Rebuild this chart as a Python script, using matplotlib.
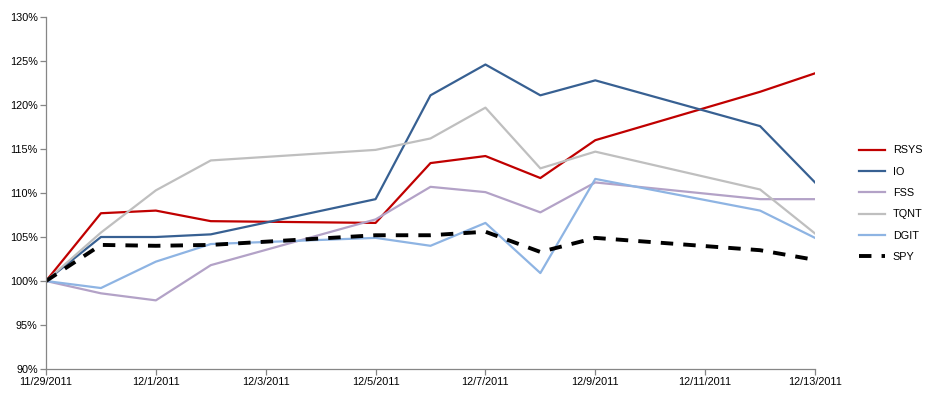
import matplotlib
matplotlib.use("Agg")
import matplotlib.pyplot as plt
import matplotlib.dates as mdates
from matplotlib.ticker import FuncFormatter
import datetime as dt

dates = ["2011-11-29", "2011-11-30", "2011-12-01", "2011-12-02", "2011-12-05",
         "2011-12-06", "2011-12-07", "2011-12-08", "2011-12-09", "2011-12-12", "2011-12-13"]
rsys = [100.0, 107.7, 108.0, 106.8, 106.6, 113.4, 114.2, 111.7, 116.0, 121.5, 123.6]
io   = [100.0, 105.0, 105.0, 105.3, 109.3, 121.1, 124.6, 121.1, 122.8, 117.6, 111.2]
fss  = [100.0, 98.6, 97.8, 101.8, 107.0, 110.7, 110.1, 107.8, 111.2, 109.3, 109.3]
tqnt = [100.0, 105.5, 110.3, 113.7, 114.9, 116.2, 119.7, 112.8, 114.7, 110.4, 105.4]
dgit = [100.0, 99.2, 102.2, 104.2, 104.9, 104.0, 106.6, 100.9, 111.6, 108.0, 104.9]
spy  = [100.0, 104.1, 104.0, 104.1, 105.2, 105.2, 105.6, 103.3, 104.9, 103.5, 102.4]
series_names = ["RSYS", "IO", "FSS", "TQNT", "DGIT", "SPY"]

x = [dt.datetime.strptime(d, "%Y-%m-%d") for d in dates]

plt.rcParams['font.family'] = ['Liberation Sans', 'DejaVu Sans']
fig = plt.figure(figsize=(9.32, 3.97), dpi=100)
ax = fig.add_axes([46/932, 1-369/397, (815-46)/932, (369-17)/397])

colors = ["#C00000", "#376092", "#B3A2C7", "#BFBFBF", "#8EB4E3", "#000000"]
data = [rsys, io, fss, tqnt, dgit, spy]
for name, vals, c in zip(series_names, data, colors):
    if name == "SPY":
        ax.plot(x, vals, color=c, lw=2.8, dashes=(3.2, 2.6), label=name)
    else:
        ax.plot(x, vals, color=c, lw=1.6, label=name)

ax.set_ylim(90, 130)
ax.set_yticks(range(90, 131, 5))
ax.yaxis.set_major_formatter(FuncFormatter(lambda v, p: f"{int(v)}%"))
ax.set_xlim(x[0], x[-1])
ticks = [dt.datetime(2011, 11, 29) + dt.timedelta(days=2*i) for i in range(8)]
ax.set_xticks(ticks)
ax.set_xticklabels([f"{t.month}/{t.day}/{t.year}" for t in ticks])

for s in ["top", "right"]:
    ax.spines[s].set_visible(False)
for s in ["left", "bottom"]:
    ax.spines[s].set_color("#868686")
    ax.spines[s].set_linewidth(0.9)
ax.tick_params(axis='both', colors="#868686", labelcolor="black", labelsize=7.8, length=4, width=0.9)
ax.tick_params(axis='x', pad=2)
ax.tick_params(axis='y', pad=2)

leg = ax.legend(loc='upper left', bbox_to_anchor=(855/932, 1-141/397), bbox_transform=fig.transFigure,
                frameon=False, fontsize=7.8, handlelength=2.4, labelspacing=1.05, handletextpad=0.7,
                borderaxespad=0)

fig.savefig("out.png", dpi=100)
